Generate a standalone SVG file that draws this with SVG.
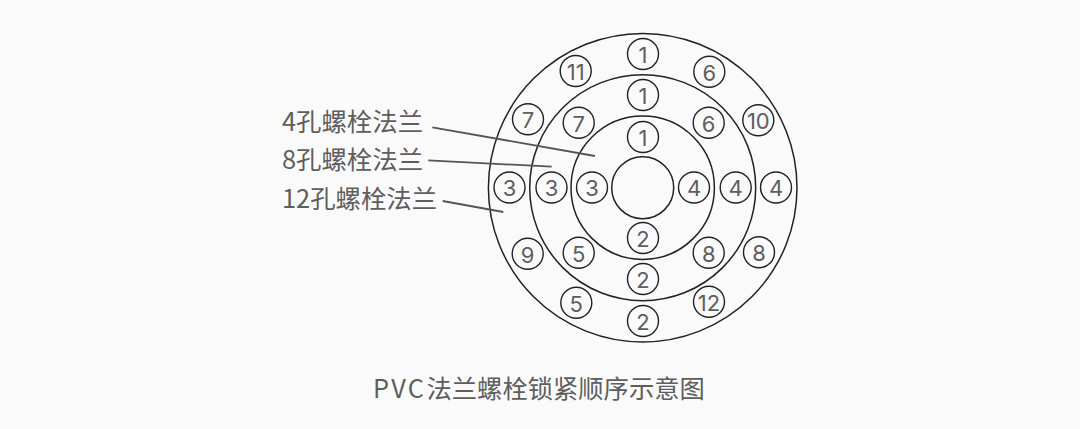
<svg xmlns="http://www.w3.org/2000/svg" width="1080" height="429" viewBox="0 0 1080 429">
<style>
.f{fill:none;stroke:#222;stroke-width:1.5}
.b circle{fill:none;stroke:#222;stroke-width:1.4}
.b text{font-family:"Inter","Liberation Sans",sans-serif;font-size:22px;fill:#5e5e5e;text-anchor:middle;font-weight:400}
.l{font-family:"Noto Sans CJK SC","Noto Sans",sans-serif;font-size:25.4px;fill:#5e5e5e;font-weight:400}
.c line{stroke:#555;stroke-width:1.8}
</style>
<rect width="1080" height="429" fill="#fafafa"/>
<g id="flange">
<circle class="f" cx="642.7" cy="187.7" r="154.3"/>
<circle class="f" cx="642.7" cy="187.7" r="113"/>
<circle class="f" cx="642.7" cy="187.7" r="71.7"/>
<circle class="f" cx="642.7" cy="187.7" r="31"/>
</g>
<g id="connectors" class="c">
<line x1="432.3" y1="127.3" x2="595" y2="156"/>
<line x1="428.3" y1="160.3" x2="551.7" y2="166.7"/>
<line x1="442.7" y1="201" x2="503.3" y2="212"/>
</g>
<g id="bolts" class="b">
<g id="b1a"><circle cx="643" cy="54" r="15.5"/><text x="643" y="62.8">1</text></g>
<g id="b1b"><circle cx="643" cy="95" r="15.5"/><text x="643" y="103.8">1</text></g>
<g id="b1c"><circle cx="643" cy="137" r="15.5"/><text x="643" y="145.8">1</text></g>
<g id="b2a"><circle cx="643" cy="238" r="15.5"/><text x="643" y="246.8">2</text></g>
<g id="b2b"><circle cx="643" cy="279" r="15.5"/><text x="643" y="287.8">2</text></g>
<g id="b2c"><circle cx="643" cy="321" r="15.5"/><text x="643" y="329.8">2</text></g>
<g id="b3a"><circle cx="509.5" cy="187.5" r="15.5"/><text x="509.5" y="196.3">3</text></g>
<g id="b3b"><circle cx="551.5" cy="187.5" r="15.5"/><text x="551.5" y="196.3">3</text></g>
<g id="b3c"><circle cx="592" cy="187.5" r="15.5"/><text x="592" y="196.3">3</text></g>
<g id="b4a"><circle cx="694" cy="187.5" r="15.5"/><text x="694" y="196.3">4</text></g>
<g id="b4b"><circle cx="735.7" cy="187.5" r="15.5"/><text x="735.7" y="196.3">4</text></g>
<g id="b4c"><circle cx="776" cy="187.5" r="15.5"/><text x="776" y="196.3">4</text></g>
<g id="b11"><circle cx="575.7" cy="71" r="15.5"/><text x="575.7" y="79.8">11</text></g>
<g id="b6a"><circle cx="709.3" cy="71.7" r="15.5"/><text x="709.3" y="80.5">6</text></g>
<g id="b7a"><circle cx="528" cy="119.3" r="15.5"/><text x="528" y="128.1">7</text></g>
<g id="b7b"><circle cx="578.7" cy="122.7" r="15.5"/><text x="578.7" y="131.5">7</text></g>
<g id="b6b"><circle cx="708.7" cy="122.7" r="15.5"/><text x="708.7" y="131.5">6</text></g>
<g id="b10"><circle cx="758.3" cy="120.3" r="15.5"/><text x="758.3" y="129.1">10</text></g>
<g id="b9"><circle cx="527.7" cy="253.7" r="15.5"/><text x="527.7" y="262.5">9</text></g>
<g id="b5a"><circle cx="578.7" cy="252.7" r="15.5"/><text x="578.7" y="261.5">5</text></g>
<g id="b8a"><circle cx="708.7" cy="252.7" r="15.5"/><text x="708.7" y="261.5">8</text></g>
<g id="b8b"><circle cx="759" cy="252.3" r="15.5"/><text x="759" y="261.1">8</text></g>
<g id="b5b"><circle cx="576.3" cy="302.7" r="15.5"/><text x="576.3" y="311.5">5</text></g>
<g id="b12"><circle cx="709" cy="301.7" r="15.5"/><text x="709" y="310.5">12</text></g>
</g>
<g id="labels">
<text class="l" x="282" y="131">4孔螺栓法兰</text>
<text class="l" x="282" y="169">8孔螺栓法兰</text>
<text class="l" x="282" y="208">12孔螺栓法兰</text>
<text class="l" x="373" y="398" style="font-size:25.3px"><tspan letter-spacing="2.2">PVC</tspan><tspan x="426.5">法兰螺栓锁紧顺序示意图</tspan></text>
</g>
</svg>
